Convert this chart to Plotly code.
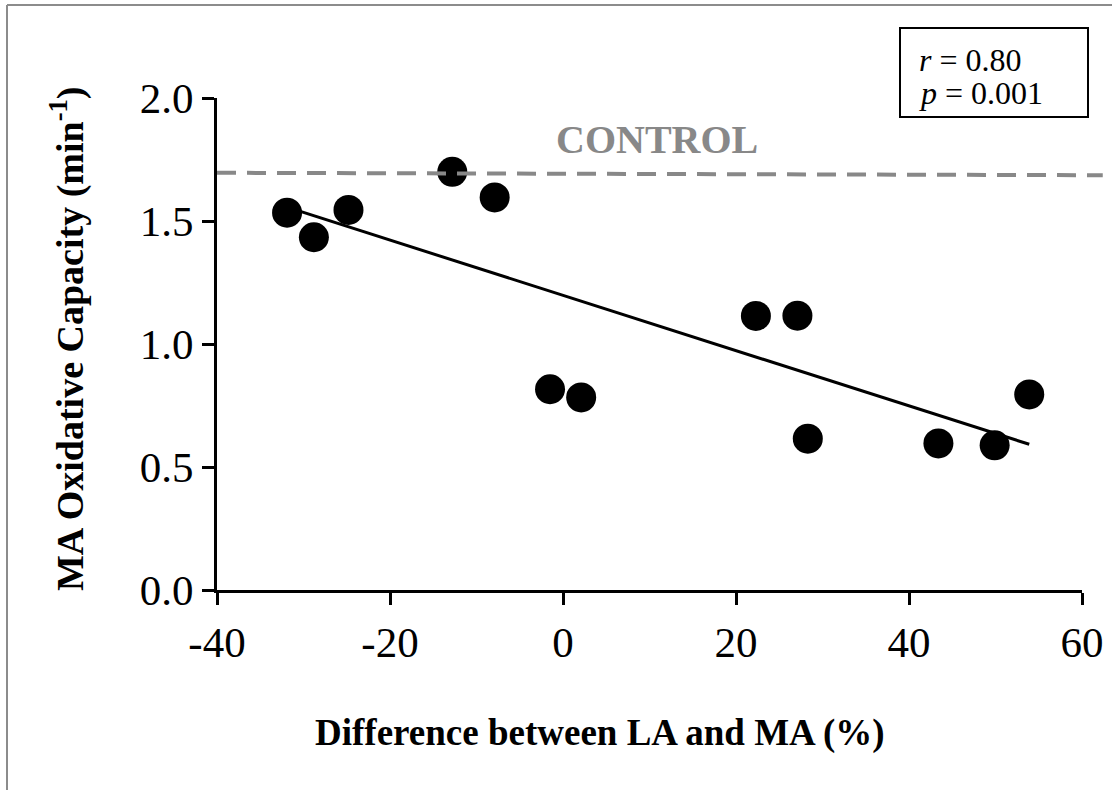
import numpy as np
import plotly.graph_objects as go

# ---- data ----
diff_pct = [-31.9, -28.8, -24.8, -12.8, -7.9, -1.5, 2.1, 22.3, 27.1, 28.3, 43.4, 49.9, 53.9]
ox_capacity = [1.534, 1.434, 1.545, 1.700, 1.596, 0.816, 0.783, 1.114, 1.115, 0.615, 0.596, 0.588, 0.795]
control_x = [-40, 62.4]
control_y = [1.696, 1.686]
x_ticks = [-40, -20, 0, 20, 40, 60]
y_ticks = [0.0, 0.5, 1.0, 1.5, 2.0]
y_tick_labels = ["0.0", "0.5", "1.0", "1.5", "2.0"]
r_text = "<i>r</i> = 0.80"
p_text = "<i>p</i> = 0.001"

# linear fit drawn over data extent
slope, intercept = np.polyfit(diff_pct, ox_capacity, 1)
fit_x = [min(diff_pct), max(diff_pct)]
fit_y = [slope * v + intercept for v in fit_x]

FONT = "Liberation Serif, Times New Roman, serif"
W, H = 1112, 790
L, R, T, B = 217, 5, 98, 200
plot_w = W - L - R          # 890
axis_w = 865                 # visible x axis length
dom_end = axis_w / plot_w
x2_max = -40 + 100 * plot_w / axis_w

def px(xp):
    return (xp - L) / plot_w

def py(yp):
    return (H - B - yp) / (H - T - B)

fig = go.Figure()

# control dashed line (on wider hidden axis so it can extend past 60)
fig.add_trace(go.Scatter(
    x=control_x, y=control_y, xaxis="x2", yaxis="y", mode="lines",
    line=dict(color="#888888", width=4, dash="19px,11px"),
    hoverinfo="skip", showlegend=False))

fig.add_trace(go.Scatter(
    x=fit_x, y=fit_y, mode="lines",
    line=dict(color="black", width=3), showlegend=False))

fig.add_trace(go.Scatter(
    x=diff_pct, y=ox_capacity, mode="markers",
    marker=dict(color="black", size=30), showlegend=False, cliponaxis=False))

fig.update_layout(
    width=W, height=H,
    margin=dict(l=L, r=R, t=T, b=B, pad=0, autoexpand=False),
    paper_bgcolor="white", plot_bgcolor="rgba(0,0,0,0)",
    font=dict(family=FONT, color="black"),
    showlegend=False,
    xaxis=dict(
        domain=[0, dom_end], range=[-40, 60], automargin=False,
        tickvals=x_ticks, ticktext=[str(v) for v in x_ticks],
        showline=True, linecolor="black", linewidth=3,
        ticks="outside", ticklen=12, tickwidth=3, tickcolor="black",
        tickfont=dict(family=FONT, size=43, color="black"),
        showgrid=False, zeroline=False, anchor="y"),
    xaxis2=dict(domain=[0, 1], range=[-40, x2_max], visible=False, automargin=False,
                anchor="y", showgrid=False, zeroline=False),
    yaxis=dict(
        range=[0, 2], tickvals=y_ticks, ticktext=y_tick_labels, automargin=False,
        showline=True, linecolor="black", linewidth=3,
        ticks="outside", ticklen=12, tickwidth=3, tickcolor="black",
        tickfont=dict(family=FONT, size=43, color="black"),
        showgrid=False, zeroline=False, anchor="x"),
)

shapes = [
    dict(type="rect", xref="paper", yref="paper",
         x0=px(900), x1=px(1088), y0=py(117), y1=py(28),
         line=dict(color="black", width=2), fillcolor="white", layer="above"),
    dict(type="line", xref="paper", yref="paper",
         x0=px(7), x1=px(7), y0=py(790), y1=py(5),
         line=dict(color="#8c8c8c", width=2)),
    dict(type="line", xref="paper", yref="paper",
         x0=px(7), x1=px(1112), y0=py(5), y1=py(5),
         line=dict(color="#8c8c8c", width=2)),
]
fig.update_layout(shapes=shapes)

annotations = [
    dict(text=r_text, xref="paper", yref="paper", x=px(917), y=py(60),
         xanchor="left", yanchor="middle", showarrow=False,
         font=dict(family=FONT, size=32, color="black")),
    dict(text=p_text, xref="paper", yref="paper", x=px(917), y=py(93),
         xanchor="left", yanchor="middle", showarrow=False,
         font=dict(family=FONT, size=32, color="black")),
    dict(text="<b>CONTROL</b>", xref="x", yref="y", x=10.9, y=1.83,
         xanchor="center", yanchor="middle", showarrow=False,
         font=dict(family=FONT, size=40, color="#888888")),
    dict(text="<b>Difference between LA and MA (%)</b>", xref="paper", yref="paper",
         x=px(600), y=py(733), xanchor="center", yanchor="middle", showarrow=False,
         font=dict(family=FONT, size=37, color="black")),
    dict(text="<b>MA Oxidative Capacity (min<sup>-1</sup>)</b>", xref="paper", yref="paper",
         x=px(67), y=py(339), xanchor="center", yanchor="middle", showarrow=False,
         textangle=-90, font=dict(family=FONT, size=38, color="black")),
]
fig.update_layout(annotations=annotations)

fig.write_html("out.html")
